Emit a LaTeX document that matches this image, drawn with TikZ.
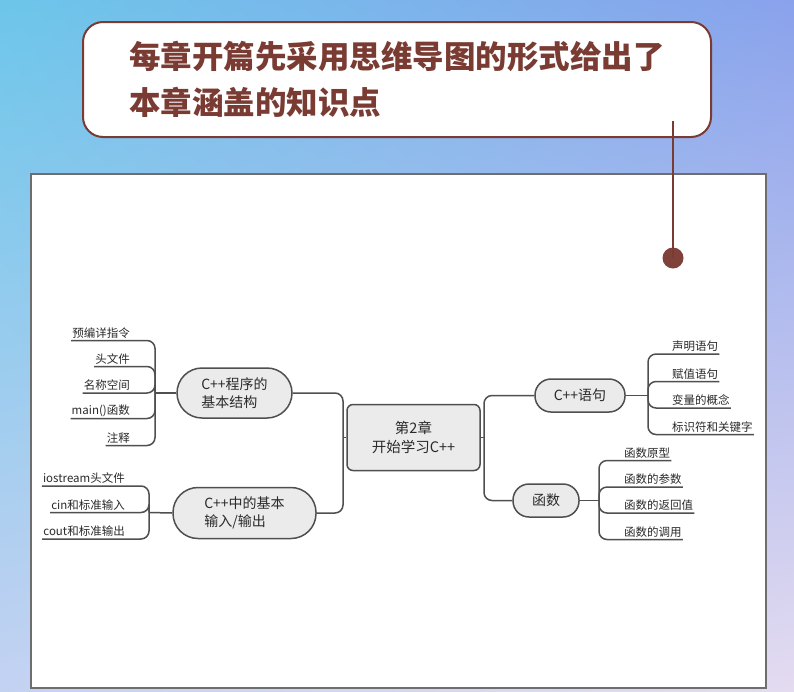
\documentclass[tikz,border=0pt]{standalone}
\usepackage{fontspec}
\usetikzlibrary{shadings}
\newfontfamily\cjk{Noto Sans CJK SC}
\definecolor{brownc}{HTML}{7A3B33}
\definecolor{linec}{HTML}{4F4F4F}
\definecolor{nodefill}{HTML}{EBEBEB}
\definecolor{txtc}{HTML}{2A2A2A}
\definecolor{bgul}{RGB}{108,198,234}
\definecolor{bgur}{RGB}{138,162,236}
\definecolor{bgll}{RGB}{196,210,242}
\definecolor{bglr}{RGB}{228,219,240}
\definecolor{panelc}{RGB}{110,110,110}
\definecolor{dotc}{RGB}{127,65,57}
\begin{document}
\begin{tikzpicture}[x=1pt,y=-1pt,
  mline/.style={draw=linec,line width=1.5pt,rounded corners=8pt},
  branch/.style={draw=linec,line width=1.5pt,fill=nodefill,font=\cjk\fontsize{14}{17.5}\selectfont,text=txtc,inner sep=0pt},
  leafl/.style={font=\cjk\fontsize{11.5}{13}\selectfont,text=txtc,inner xsep=1pt,inner ysep=2pt,anchor=south east},
  leafr/.style={font=\cjk\fontsize{11.5}{13}\selectfont,text=txtc,inner xsep=1pt,inner ysep=2pt,anchor=south west}]
\useasboundingbox (0,0) rectangle (794,691);
\shade[upper left=bgul,upper right=bgur,lower left=bgll,lower right=bglr] (0,0) rectangle (794,691);
% title box
\node[draw=brownc,line width=2pt,fill=white,rounded corners=20pt,minimum width=628pt,minimum height=115pt,inner sep=0pt] (title) at (397,79.5) {};
\node[anchor=west,text=brownc,font=\cjk\bfseries\fontsize{31.5}{46}\selectfont,align=left,inner sep=0pt] (ttext) at (129,79) {每章开篇先采用思维导图的形式给出了\\本章涵盖的知识点};
% panel
\node[draw=panelc,line width=1.2pt,fill=white,minimum width=735pt,minimum height=514pt,inner sep=0pt] (panel) at (398.5,431) {};
% pointer
\coordinate (pstart) at (673,121);
\node[circle,fill=dotc,minimum size=21pt,inner sep=0pt] (dot) at (673,258) {};
\draw[brownc,line width=2pt] (pstart) -- (dot.center);
% center node
\node[branch,rounded corners=6pt,minimum width=133pt,minimum height=66pt,align=center,font=\cjk\fontsize{14.5}{18.5}\selectfont] (M) at (413.5,437.5) {第2章\\开始学习C++};
% branch nodes
\node[branch,rounded corners=25pt,minimum width=115pt,minimum height=50pt,align=left] (A) at (234.5,393) {C++程序的\\基本结构};
\node[branch,rounded corners=25pt,minimum width=143pt,minimum height=51pt,align=left] (B) at (244.5,513) {C++中的基本\\输入/输出};
\node[branch,rounded corners=16pt,minimum width=90pt,minimum height=33pt] (C) at (580,395.5) {C++语句};
\node[branch,rounded corners=16pt,minimum width=66pt,minimum height=33pt] (D) at (546,500.5) {函数};
% trunks
\coordinate (lt) at (343,437.5);
\coordinate (rt) at (484,437.5);
\draw[mline] (A.east) -| (lt) |- (B.east);
\draw[mline] (lt) -- (M.west);
\draw[mline] (C.west) -| (rt) |- (D.west);
\draw[mline] (rt) -- (M.east);
% left upper leaves
\coordinate (bA) at (155,393);
\node[leafl] (a1) at (131,340.5) {预编详指令};
\node[leafl] (a2) at (131,366.5) {头文件};
\node[leafl] (a3) at (131,393) {名称空间};
\node[leafl] (a4) at (131,418.5) {main()函数};
\node[leafl] (a5) at (131,445.5) {注释};
\draw[mline] (bA) -- (A.west);
\foreach \n in {a1,a2,a3,a4,a5} \draw[mline] (\n.south west) -| (bA);
% left lower leaves
\coordinate (bB) at (149,512.5);
\node[leafl] (b1) at (126,486) {iostream头文件};
\node[leafl] (b2) at (126,512.5) {cin和标准输入};
\node[leafl] (b3) at (126,539) {cout和标准输出};
\draw[mline] (bB) -- (B.west);
\foreach \n in {b1,b2,b3} \draw[mline] (\n.south west) -| (bB);
% right upper leaves
\coordinate (bC) at (648,395.5);
\node[leafr] (c1) at (671,354) {声明语句};
\node[leafr] (c2) at (671,381.5) {赋值语句};
\node[leafr] (c3) at (671,408) {变量的概念};
\node[leafr] (c4) at (671,434.5) {标识符和关键字};
\draw[mline] (C.east) -- (bC);
\foreach \n in {c1,c2,c3,c4} \draw[mline] (bC) |- (\n.south east);
% right lower leaves
\coordinate (bD) at (599,500.5);
\node[leafr] (d1) at (623,460.5) {函数原型};
\node[leafr] (d2) at (623,487) {函数的参数};
\node[leafr] (d3) at (623,513) {函数的返回值};
\node[leafr] (d4) at (623,539.5) {函数的调用};
\draw[mline] (D.east) -- (bD);
\foreach \n in {d1,d2,d3,d4} \draw[mline] (bD) |- (\n.south east);
\end{tikzpicture}
\end{document}
